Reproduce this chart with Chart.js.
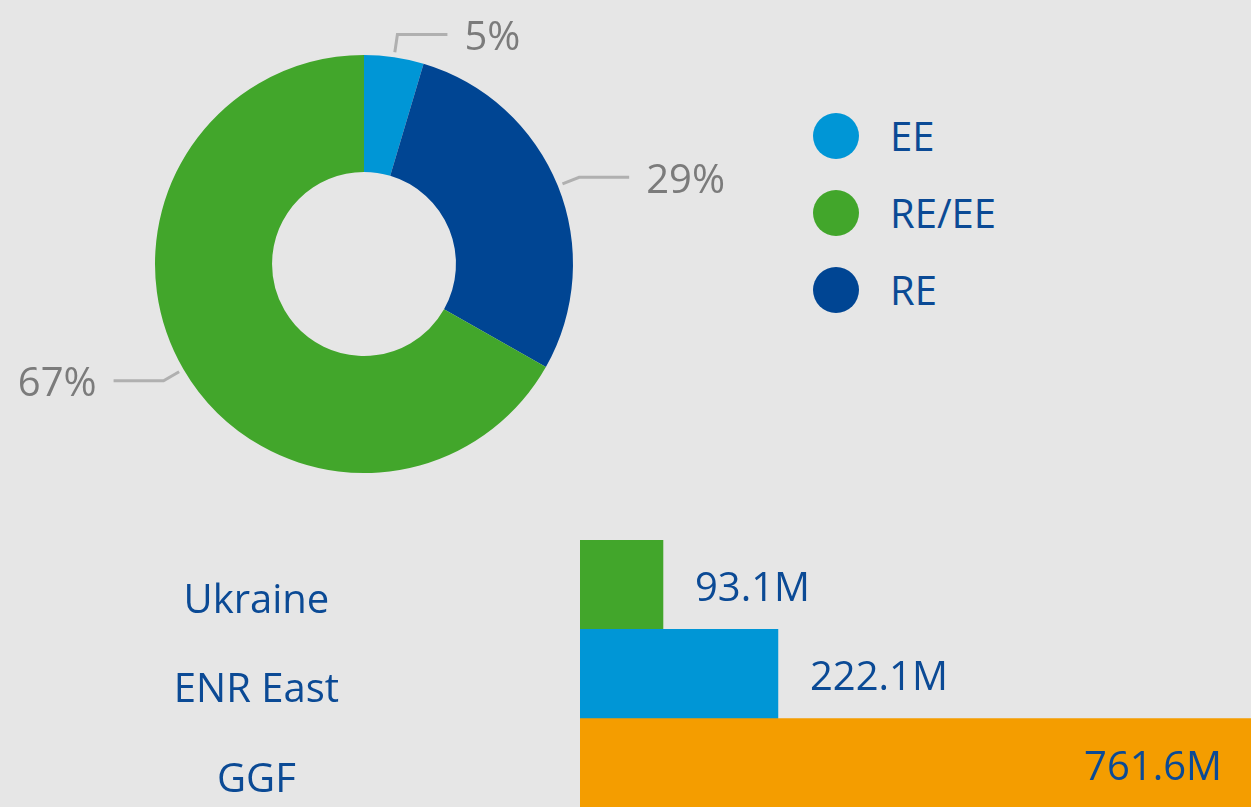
<!DOCTYPE html>
<html>
<head>
<meta charset="utf-8">
<script src="https://cdn.jsdelivr.net/npm/chart.js@4/dist/chart.umd.min.js"></script>
<style>
    html, body {
        margin: 0;
        padding: 0;
        background: #E6E6E6;
        width: 1251px;
        height: 807px;
        overflow: hidden;
        font-family: "Open Sans", "Noto Sans", sans-serif;
    }
    #mixWrap {
        position: absolute;
        left: 0;
        top: 0;
        width: 728px;
        height: 528px;
    }
    #fundWrap {
        position: absolute;
        left: 0;
        top: 540px;
        width: 1251px;
        height: 268px;
    }
    #mixLegend {
        position: absolute;
        left: 813px;
        top: 113px;
    }
    .legend-row {
        display: flex;
        align-items: center;
        height: 46px;
        margin-bottom: 31px;
    }
    .legend-dot {
        width: 46px;
        height: 46px;
        border-radius: 50%;
    }
    .legend-text {
        margin-left: 31px;
        font-size: 40px;
        line-height: 46px;
        color: #0B4A95;
    }
</style>
</head>
<body>
<div id="mixWrap"><canvas id="mixChart"></canvas></div>
<div id="mixLegend"></div>
<div id="fundWrap"><canvas id="fundChart"></canvas></div>

<script>
// Investment mix (doughnut), drawn clockwise from the top
const mixLabels = ['EE', 'RE', 'RE/EE'];
const mixShares = [4.6, 28.6, 66.8];
const mixColors = ['#0096D6', '#004593', '#42A62B'];
const legendOrder = ['EE', 'RE/EE', 'RE'];

// Funds (horizontal bars)
const fundLabels = ['Ukraine', 'ENR East', 'GGF'];
const fundValues = [93.1, 222.1, 761.6];
const fundColors = ['#42A62B', '#0096D6', '#F49D00'];

const textBlue = '#0B4A95';
const fontFamily = '"Open Sans", "Noto Sans", sans-serif';

// Percent labels with elbow leader lines
const leaderLabels = {
    id: 'leaderLabels',
    afterDatasetsDraw(chart) {
        const ctx = chart.ctx;
        const meta = chart.getDatasetMeta(0);
        const values = chart.data.datasets[0].data;
        const total = values.reduce((a, b) => a + b, 0);

        ctx.save();
        ctx.font = '40px ' + fontFamily;
        ctx.textBaseline = 'middle';
        meta.data.forEach(function(arc, i) {
            const p = arc.getProps(['x', 'y', 'startAngle', 'endAngle', 'outerRadius'], true);
            const mid = (p.startAngle + p.endAngle) / 2;
            const cos = Math.cos(mid);
            const sin = Math.sin(mid);
            const x1 = p.x + (p.outerRadius + 5) * cos;
            const y1 = p.y + (p.outerRadius + 5) * sin;
            const x2 = p.x + (p.outerRadius + 23) * cos;
            const y2 = p.y + (p.outerRadius + 23) * sin;
            const dir = cos >= 0 ? 1 : -1;
            const x3 = x2 + dir * 50;

            ctx.strokeStyle = '#B0B0B0';
            ctx.lineWidth = 3;
            ctx.beginPath();
            ctx.moveTo(x1, y1);
            ctx.lineTo(x2, y2);
            ctx.lineTo(x3, y2);
            ctx.stroke();

            ctx.fillStyle = '#7B7B7B';
            ctx.textAlign = dir > 0 ? 'left' : 'right';
            ctx.fillText(Math.round(values[i] / total * 100) + '%', x3 + dir * 17, y2 + 4);
        });
        ctx.restore();
    }
};

// Value labels: outside the bar when there is room, else inside at the end
const barValueLabels = {
    id: 'barValueLabels',
    afterDatasetsDraw(chart) {
        const ctx = chart.ctx;
        const area = chart.chartArea;
        const meta = chart.getDatasetMeta(0);
        const values = chart.data.datasets[0].data;

        ctx.save();
        ctx.font = '40px ' + fontFamily;
        ctx.fillStyle = textBlue;
        ctx.textBaseline = 'middle';
        meta.data.forEach(function(bar, i) {
            const text = values[i].toFixed(1) + 'M';
            const w = ctx.measureText(text).width;
            if (bar.x + 32 + w <= area.right) {
                ctx.textAlign = 'left';
                ctx.fillText(text, bar.x + 32, bar.y + 5);
            } else {
                ctx.textAlign = 'right';
                ctx.fillText(text, Math.min(bar.x, area.right) - 29, bar.y + 5);
            }
        });
        ctx.restore();
    }
};

document.addEventListener('DOMContentLoaded', function() {
    initializeMixChart();
    buildMixLegend();
    initializeFundChart();
});

function initializeMixChart() {
    const ctx = document.getElementById('mixChart');
    if (!ctx) return;

    new Chart(ctx, {
        type: 'doughnut',
        data: {
            labels: mixLabels,
            datasets: [{
                data: mixShares,
                backgroundColor: mixColors,
                borderWidth: 0,
                hoverOffset: 0
            }]
        },
        options: {
            responsive: true,
            maintainAspectRatio: false,
            animation: false,
            cutout: '44%',
            layout: {
                padding: { left: 155, right: 155, top: 55, bottom: 55 }
            },
            plugins: {
                legend: { display: false },
                tooltip: { enabled: false }
            }
        },
        plugins: [leaderLabels]
    });
}

function buildMixLegend() {
    const box = document.getElementById('mixLegend');
    legendOrder.forEach(function(label) {
        const row = document.createElement('div');
        row.className = 'legend-row';
        const dot = document.createElement('div');
        dot.className = 'legend-dot';
        dot.style.background = mixColors[mixLabels.indexOf(label)];
        const text = document.createElement('div');
        text.className = 'legend-text';
        text.textContent = label;
        row.appendChild(dot);
        row.appendChild(text);
        box.appendChild(row);
    });
}

function initializeFundChart() {
    const ctx = document.getElementById('fundChart');
    if (!ctx) return;

    new Chart(ctx, {
        type: 'bar',
        data: {
            labels: fundLabels,
            datasets: [{
                data: fundValues,
                backgroundColor: fundColors,
                borderWidth: 0,
                categoryPercentage: 1,
                barPercentage: 1
            }]
        },
        options: {
            indexAxis: 'y',
            responsive: true,
            maintainAspectRatio: false,
            animation: false,
            layout: { padding: 0 },
            plugins: {
                legend: { display: false },
                tooltip: { enabled: false }
            },
            scales: {
                x: {
                    display: false,
                    min: 0,
                    max: 753
                },
                y: {
                    grid: { display: false },
                    border: { display: false },
                    ticks: {
                        crossAlign: 'center',
                        padding: 233,
                        labelOffset: 17,
                        color: textBlue,
                        font: { family: fontFamily, size: 40 }
                    },
                    afterFit: function(scale) {
                        // the big tick padding is only meant to push labels left
                        scale.width = 580;
                        scale.paddingTop = 0;
                        scale.paddingBottom = 0;
                    }
                }
            }
        },
        plugins: [barValueLabels]
    });
}
</script>
</body>
</html>
